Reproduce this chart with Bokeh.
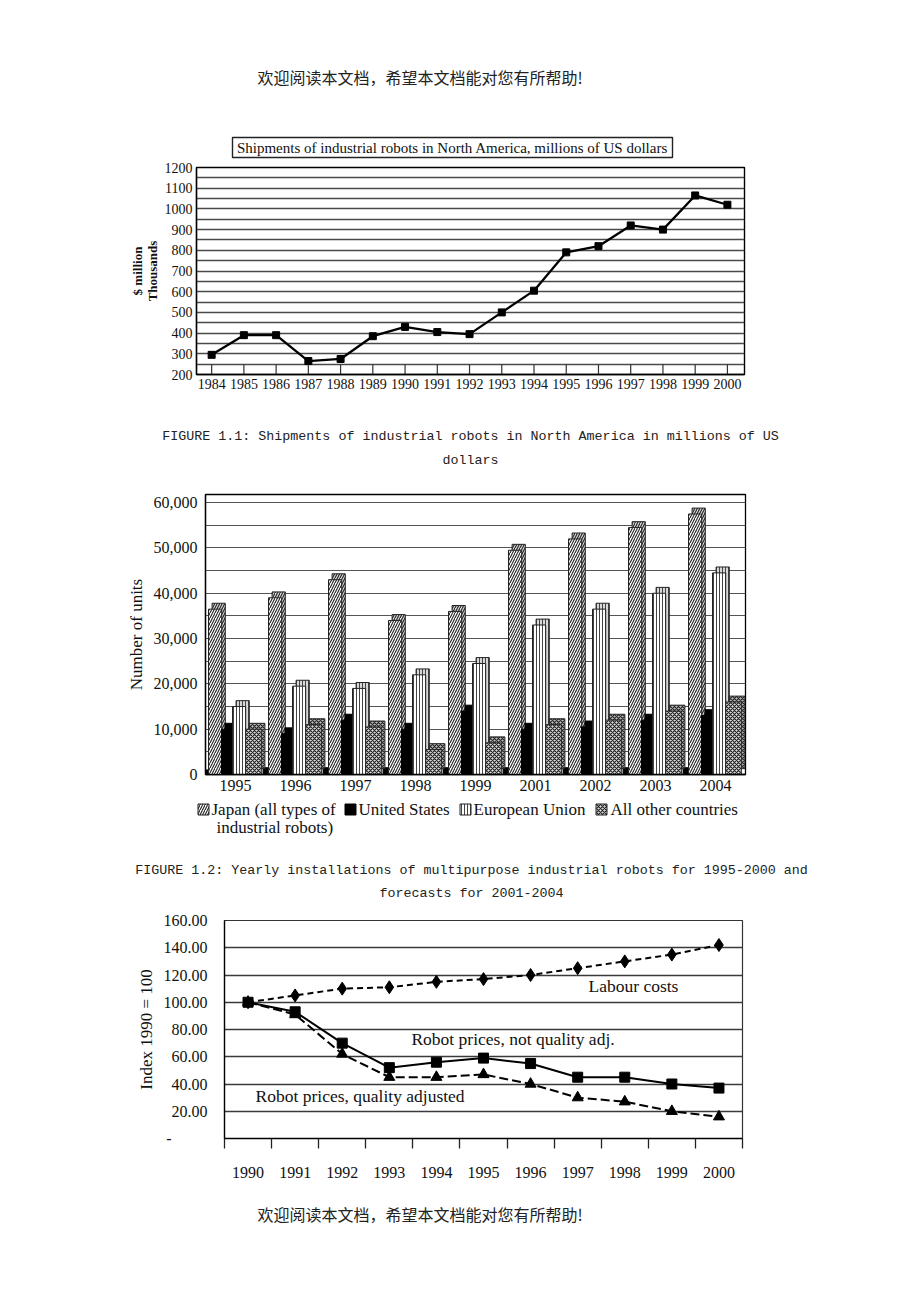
from bokeh.plotting import figure
from bokeh.layouts import column
from bokeh.models import Range1d, FactorRange, FixedTicker, NumeralTickFormatter, Label, ColumnDataSource
from bokeh.transform import dodge
from bokeh.core.properties import value
from bokeh.embed import file_html
from bokeh.resources import INLINE

SERIF = "Liberation Serif"
MONO = "Liberation Mono"
CJK = "Noto Sans CJK SC"

# ---------------- texts ----------------
header_text = "欢迎阅读本文档，希望本文档能对您有所帮助!"
fig1_title = "Shipments of industrial robots in North America, millions of US dollars"
fig1_caption = ["FIGURE 1.1: Shipments of industrial robots in North America in millions of US",
                "dollars"]
fig2_caption = ["FIGURE 1.2: Yearly installations of multipurpose industrial robots for 1995-2000 and",
                "forecasts for 2001-2004"]

# ---------------- chart 1 data ----------------
ship_years = [1984, 1985, 1986, 1987, 1988, 1989, 1990, 1991, 1992,
              1993, 1994, 1995, 1996, 1997, 1998, 1999, 2000]
ship_values = [295, 390, 390, 265, 275, 385, 430, 405, 395,
               500, 605, 790, 820, 920, 900, 1065, 1020]
ship_ticks = [200, 300, 400, 500, 600, 700, 800, 900, 1000, 1100, 1200]
ship_ylabel = "$ million\nThousands"

# ---------------- chart 2 data ----------------
inst_years = ["1995", "1996", "1997", "1998", "1999", "2001", "2002", "2003", "2004"]
japan = [36500, 39000, 43000, 34000, 36000, 49500, 52000, 54500, 57500]
usa = [10000, 9000, 12000, 10000, 14000, 10000, 10500, 12000, 13000]
eu = [15000, 19500, 19000, 22000, 24500, 33000, 36500, 40000, 44500]
other = [10000, 11000, 10500, 5500, 7000, 11000, 12000, 14000, 16000]
base_marks = [1000, 1500, 1500, 1500, 1500, 1500, 1500, 1500, 1500]
inst_ticks = [0, 10000, 20000, 30000, 40000, 50000, 60000]
inst_ylabel = "Number of units"
legend_labels = ["Japan (all types of", "industrial robots)", "United States",
                 "European Union", "All other countries"]

# ---------------- chart 3 data ----------------
idx_years = [1990, 1991, 1992, 1993, 1994, 1995, 1996, 1997, 1998, 1999, 2000]
labour = [100, 105, 110, 111, 115, 117, 120, 125, 130, 135, 142]
price_nq = [100, 93, 70, 52, 56, 59, 55, 45, 45, 40, 37]
price_q = [100, 91, 62, 45, 45, 47, 40, 30, 27, 20, 16]
idx_ticks = [0, 20, 40, 60, 80, 100, 120, 140, 160]
idx_tick_labels = ["-" + "\u00a0" * 9, "20.00", "40.00", "60.00", "80.00", "100.00",
                   "120.00", "140.00", "160.00"]
idx_ylabel = "Index 1990 = 100"
series3_names = ["Labour costs", "Robot prices, not quality adj.", "Robot prices, quality adjusted"]

COMMON = dict(output_backend="svg", toolbar_location=None, frame_align=False)


def strip(y0, y1):
    p = figure(width=920, height=y1 - y0, x_range=Range1d(0, 920), y_range=Range1d(y1, y0),
               min_border=0, x_axis_location=None, y_axis_location=None, **COMMON)
    p.grid.visible = False
    p.outline_line_color = None
    p.background_fill_color = "white"
    p.border_fill_color = "white"
    return p


def style_axes(p, size):
    for ax in p.axis:
        ax.major_label_text_font = SERIF
        ax.major_label_text_font_size = size
        ax.major_label_text_color = "#111111"
        ax.axis_label_text_font = SERIF
        ax.axis_label_text_color = "#111111"
        ax.axis_label_text_font_style = "normal"
        ax.major_tick_out = 0
        ax.major_tick_in = 0
        ax.minor_tick_out = 0
        ax.minor_tick_in = 0
        ax.axis_line_color = "black"
        ax.axis_line_width = 1.3


# ================= strip 0: header + title box (0-160) =================
s0 = strip(0, 160)
s0.text(x=[257], y=[76], text=[header_text], text_font=value(CJK), text_font_size="16px",
        text_baseline="middle", text_color="#222222")
s0.quad(left=[232], right=[672], top=[137], bottom=[157], fill_color=None,
        line_color="#222222", line_width=1.4)
s0.text(x=[452], y=[147.5], text=[fig1_title], text_font=value(SERIF), text_font_size="15px",
        text_align="center", text_baseline="middle", text_color="#111111")

# ================= chart 1 (160-400) =================
p1 = figure(width=920, height=240, x_range=Range1d(1983.53, 2000.53),
            y_range=Range1d(ship_ticks[0], ship_ticks[-1]),
            min_border_left=196, min_border_right=176, min_border_top=7, min_border_bottom=26,
            **COMMON)
p1.outline_line_color = "black"
p1.outline_line_width = 1.4
p1.xgrid.visible = False
half_steps = [t + 50 for t in ship_ticks[:-1]]
p1.ygrid.ticker = FixedTicker(ticks=ship_ticks + half_steps)
p1.ygrid.grid_line_color = "#4a4a4a"
p1.ygrid.grid_line_width = 1.3
p1.xaxis.ticker = FixedTicker(ticks=ship_years)
p1.yaxis.ticker = FixedTicker(ticks=ship_ticks)
style_axes(p1, "14px")
p1.xaxis.major_label_standoff = 4
p1.yaxis.major_label_standoff = 4
p1.yaxis.axis_label = ship_ylabel
p1.yaxis.axis_label_text_font_size = "13px"
p1.yaxis.axis_label_text_font_style = "bold"
p1.yaxis.axis_label_text_line_height = 1.0
p1.yaxis.axis_label_standoff = 2
band_top = [ship_ticks[0] + 50] * len(ship_years)
band_bot = [ship_ticks[0]] * len(ship_years)
p1.segment(x0=ship_years, x1=ship_years, y0=band_bot, y1=band_top, line_color="#333333", line_width=1.2)
p1.line(ship_years, ship_values, line_color="black", line_width=2.3)
p1.scatter(ship_years, ship_values, marker="square", size=7, color="black")

# ================= strip 2: caption 1 (400-488) =================
s2 = strip(400, 488)
s2.text(x=[470, 470], y=[436, 460], text=fig1_caption, text_font=value(MONO),
        text_font_size="13.35px", text_align="center", text_baseline="middle", text_color="#222222")

# ================= chart 2 (488-800) =================
DEPTH = 1300
src = ColumnDataSource(dict(
    year=inst_years, japan=japan, usa=usa, eu=eu, other=other, base=base_marks,
    japan_d=[v + DEPTH for v in japan], usa_d=[v + DEPTH for v in usa],
    eu_d=[v + DEPTH for v in eu], other_d=[v + DEPTH for v in other]))
p2 = figure(width=920, height=312, x_range=FactorRange(factors=inst_years),
            y_range=Range1d(0, 61800),
            min_border_left=205, min_border_right=175, min_border_top=6, min_border_bottom=26,
            **COMMON)
p2.outline_line_color = "black"
p2.outline_line_width = 1.3
p2.xgrid.visible = False
p2.ygrid.ticker = FixedTicker(ticks=list(range(inst_ticks[0], inst_ticks[-1] + 1, 5000)))
p2.ygrid.grid_line_color = "#555555"
p2.ygrid.grid_line_width = 1.2
p2.yaxis.ticker = FixedTicker(ticks=inst_ticks)
p2.yaxis.formatter = NumeralTickFormatter(format="0,0")
style_axes(p2, "16px")
p2.xaxis.major_label_standoff = 5
p2.yaxis.major_label_standoff = 8
p2.yaxis.axis_label = inst_ylabel
p2.yaxis.axis_label_text_font_size = "17px"
p2.yaxis.axis_label_standoff = 5

JAPAN_STYLE = dict(fill_color="white", hatch_pattern="/", hatch_color="#222222", hatch_scale=5,
                   hatch_weight=1.1, line_color="#222222", line_width=1)
US_STYLE = dict(fill_color="black", line_color="black", line_width=1)
EU_STYLE = dict(fill_color="white", hatch_pattern="|", hatch_color="#444444", hatch_scale=3,
                hatch_weight=1, line_color="#222222", line_width=1)
OTHER_STYLE = dict(fill_color="#dddddd", hatch_pattern="x", hatch_color="#222222", hatch_scale=4,
                   hatch_weight=1.2, line_color="#222222", line_width=1)
JAPAN_DEPTH = dict(JAPAN_STYLE, fill_color="#d8d8d8")
EU_DEPTH = dict(EU_STYLE, fill_color="#d8d8d8")
OTHER_DEPTH = dict(OTHER_STYLE, fill_color="#bbbbbb")

p2.vbar(x=dodge("year", -0.49, range=p2.x_range), top="base", width=0.1, source=src, **US_STYLE)
series_spec = [("japan", -0.34, 0.22, JAPAN_STYLE, JAPAN_DEPTH),
               ("usa", -0.14, 0.19, US_STYLE, US_STYLE),
               ("eu", 0.06, 0.22, EU_STYLE, EU_DEPTH),
               ("other", 0.30, 0.26, OTHER_STYLE, OTHER_DEPTH)]
for col, off, w, st, dst in series_spec:
    p2.vbar(x=dodge("year", off + 0.06, range=p2.x_range), top=col + "_d", bottom=DEPTH,
            width=w, source=src, **dst)
    p2.vbar(x=dodge("year", off, range=p2.x_range), top=col, width=w, source=src, **st)

# ================= strip 4: legend + caption 2 (800-910) =================
s4 = strip(800, 910)
box_x = [203, 350, 465, 601]
box_styles = [JAPAN_STYLE, US_STYLE, EU_STYLE, OTHER_STYLE]
for bx, st in zip(box_x, box_styles):
    s4.rect(x=[bx], y=[809], width=11, height=11, **st)
s4.text(x=[211, 216, 358, 473, 610], y=[809, 827, 809, 809, 809], text=legend_labels,
        text_font=value(SERIF), text_font_size="17px", text_baseline="middle", text_color="#111111")
s4.text(x=[471, 471], y=[870, 893], text=fig2_caption, text_font=value(MONO),
        text_font_size="13.35px", text_align="center", text_baseline="middle", text_color="#222222")

# ================= chart 3 (910-1180) =================
p3 = figure(width=920, height=270, x_range=Range1d(idx_years[0] - 0.5, idx_years[-1] + 0.5),
            y_range=Range1d(idx_ticks[0], idx_ticks[-1]),
            min_border_left=224, min_border_right=178, min_border_top=10, min_border_bottom=40,
            **COMMON)
p3.outline_line_color = "#333333"
p3.outline_line_width = 1.2
p3.xgrid.visible = False
p3.ygrid.ticker = FixedTicker(ticks=idx_ticks)
p3.ygrid.grid_line_color = "#3a3a3a"
p3.ygrid.grid_line_width = 1.3
boundaries = [y - 0.5 for y in idx_years] + [idx_years[-1] + 0.5]
p3.xaxis.ticker = FixedTicker(ticks=idx_years, minor_ticks=boundaries)
p3.yaxis.ticker = FixedTicker(ticks=idx_ticks)
p3.yaxis.major_label_overrides = {t: lab for t, lab in zip(idx_ticks, idx_tick_labels)}
style_axes(p3, "16px")
p3.xaxis.minor_tick_out = 10
p3.xaxis.minor_tick_line_color = "#222222"
p3.xaxis.minor_tick_line_width = 1.3
p3.xaxis.major_label_standoff = 18
p3.yaxis.major_label_standoff = 17
p3.yaxis.axis_label = idx_ylabel
p3.yaxis.axis_label_text_font_size = "17px"
p3.yaxis.axis_label_standoff = 5

p3.line(idx_years, labour, line_color="black", line_width=2, line_dash="6 4")
p3.scatter(idx_years, labour, marker="diamond", size=13, color="black")
p3.line(idx_years, price_nq, line_color="black", line_width=2)
p3.scatter(idx_years, price_nq, marker="square", size=10, color="black")
p3.line(idx_years, price_q, line_color="black", line_width=2, line_dash="9 4")
p3.scatter(idx_years, price_q, marker="triangle", size=11, color="black")

label_pos = [(1997.23, 112.0), (1993.47, 72.7), (1990.16, 31.3)]
for (lx, ly), name in zip(label_pos, series3_names):
    p3.add_layout(Label(x=lx, y=ly, text=name, text_font=SERIF, text_font_size="17.5px",
                        text_baseline="middle", text_color="#111111"))

# ================= strip 6: footer (1180-1302) =================
s6 = strip(1180, 1302)
s6.text(x=[257], y=[1213], text=[header_text], text_font=value(CJK), text_font_size="16px",
        text_baseline="middle", text_color="#222222")

page = column(s0, p1, s2, p2, s4, p3, s6, spacing=0)
open("out.html", "w").write(file_html(page, INLINE))
